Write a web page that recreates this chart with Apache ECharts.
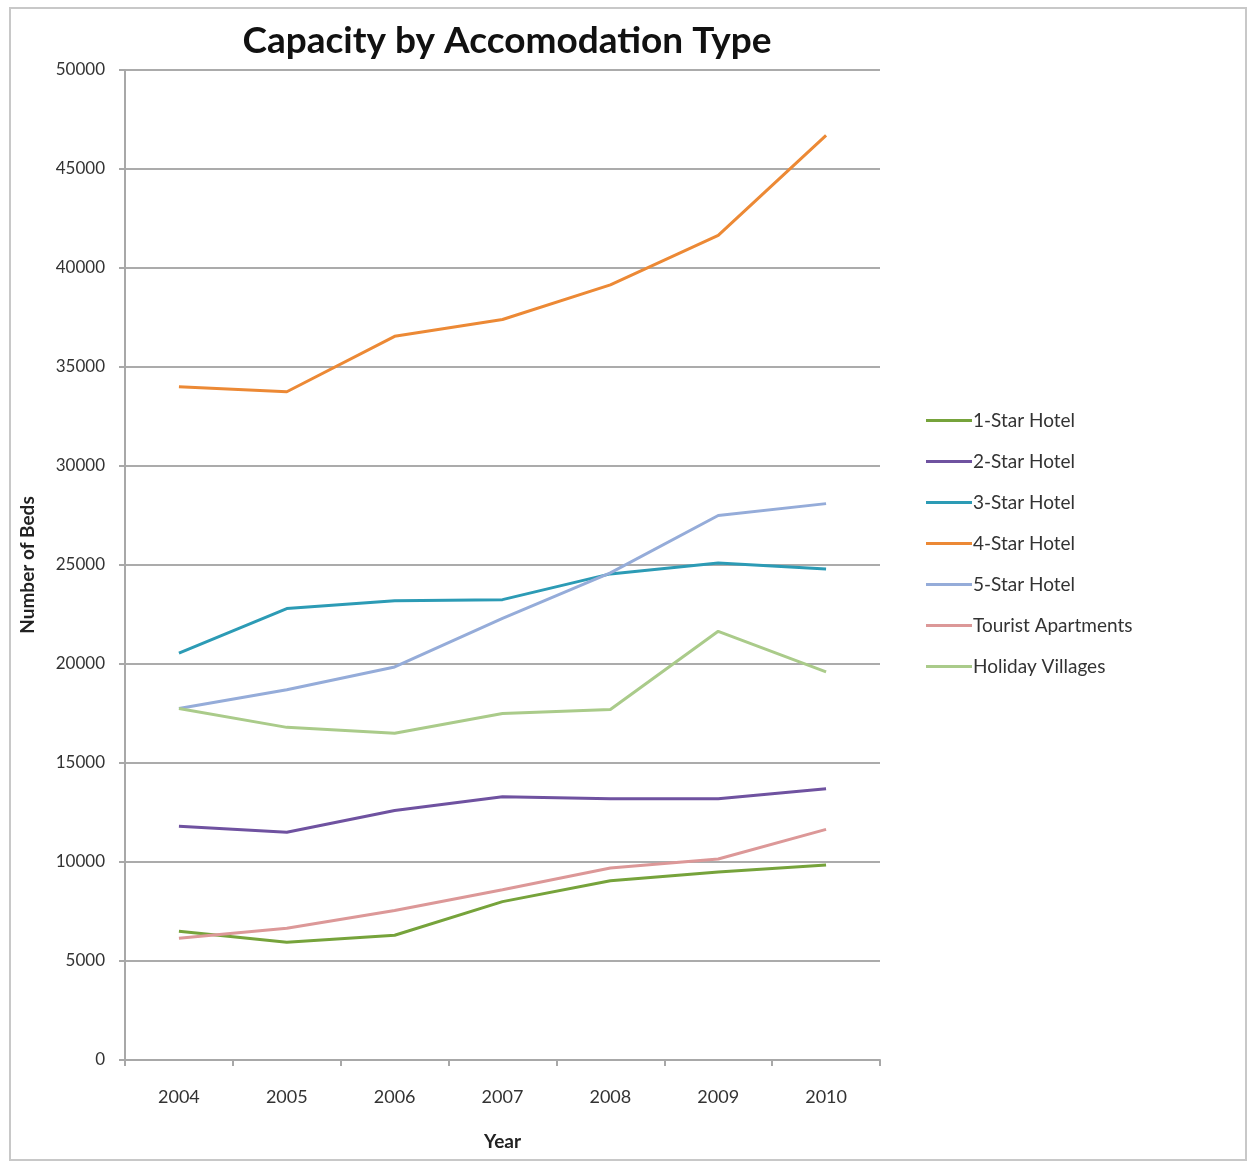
<!DOCTYPE html>
<html>
<head>
<meta charset="utf-8">
<script src="https://cdn.jsdelivr.net/npm/echarts@6/dist/echarts.min.js"></script>
<style>
  html, body { margin: 0; padding: 0; background: #fff; }
  #main { width: 1248px; height: 1162px; }
</style>
</head>
<body>
<div id="main"></div>
<script>
const years = ['2004', '2005', '2006', '2007', '2008', '2009', '2010'];

const oneStar = [6500, 5950, 6300, 8000, 9050, 9500, 9850];
const twoStar = [11800, 11500, 12600, 13300, 13200, 13200, 13700];
const threeStar = [20550, 22800, 23200, 23250, 24550, 25100, 24800];
const fourStar = [34000, 33750, 36550, 37400, 39150, 41650, 46700];
const fiveStar = [17750, 18700, 19850, 22300, 24600, 27500, 28100];
const touristApts = [6150, 6650, 7550, 8600, 9700, 10150, 11650];
const holidayVillages = [17750, 16800, 16500, 17500, 17700, 21650, 19600];

const names = ['1-Star Hotel', '2-Star Hotel', '3-Star Hotel', '4-Star Hotel', '5-Star Hotel', 'Tourist Apartments', 'Holiday Villages'];
const colors = ['#76a33b', '#6f52a0', '#2c9bb5', '#ec8935', '#95acd9', '#dc9898', '#aacb8a'];
const values = [oneStar, twoStar, threeStar, fourStar, fiveStar, touristApts, holidayVillages];

const font = 'Lato, "Open Sans", sans-serif';

const chart = echarts.init(document.getElementById('main'));
chart.setOption({
  backgroundColor: '#fff',
  animation: false,
  title: {
    text: 'Capacity by Accomodation Type',
    left: 502,
    top: 18,
    textAlign: 'center',
    textStyle: { fontFamily: font, fontSize: 37, fontWeight: 'bold', color: '#111' }
  },
  graphic: [{
    type: 'rect',
    shape: { x: 10, y: 8, width: 1236, height: 1152 },
    style: { fill: 'none', stroke: '#c8c8c8', lineWidth: 2 },
    silent: true
  }],
  legend: {
    orient: 'vertical',
    left: 921,
    top: 406,
    itemWidth: 46,
    itemHeight: 14,
    itemGap: 22,
    data: names.map(n => ({ name: n, icon: 'path://M0,6 L46,6 L46,9 L0,9 Z' })),
    textStyle: { fontFamily: font, fontSize: 19, color: '#333', padding: [0, 0, 0, -4] }
  },
  grid: { left: 125, right: 368, top: 70, bottom: 102 },
  xAxis: {
    type: 'category',
    data: years,
    boundaryGap: true,
    name: 'Year',
    nameLocation: 'middle',
    nameGap: 72,
    nameTextStyle: { fontFamily: font, fontSize: 19, fontWeight: 'bold', color: '#222' },
    axisLine: { lineStyle: { color: '#a8a8a8', width: 2 } },
    axisTick: { show: true, alignWithLabel: false, length: 6, lineStyle: { color: '#a8a8a8', width: 2 } },
    axisLabel: { fontFamily: font, fontSize: 18, color: '#333', margin: 28 }
  },
  yAxis: {
    type: 'value',
    min: 0,
    max: 50000,
    interval: 5000,
    name: 'Number of Beds',
    nameLocation: 'middle',
    nameGap: 88,
    nameTextStyle: { fontFamily: font, fontSize: 19, fontWeight: 'bold', color: '#222' },
    axisLine: { show: true, lineStyle: { color: '#a8a8a8', width: 2 } },
    axisTick: { show: true, length: 6, lineStyle: { color: '#a8a8a8', width: 2 } },
    axisLabel: { fontFamily: font, fontSize: 17, color: '#333', margin: 20, formatter: v => String(v) },
    splitLine: { lineStyle: { color: '#ababab', width: 2 } }
  },
  series: names.map((n, i) => ({
    name: n,
    type: 'line',
    data: values[i],
    symbol: 'none',
    color: colors[i],
    lineStyle: { width: 3, color: colors[i] }
  }))
});
</script>
</body>
</html>
